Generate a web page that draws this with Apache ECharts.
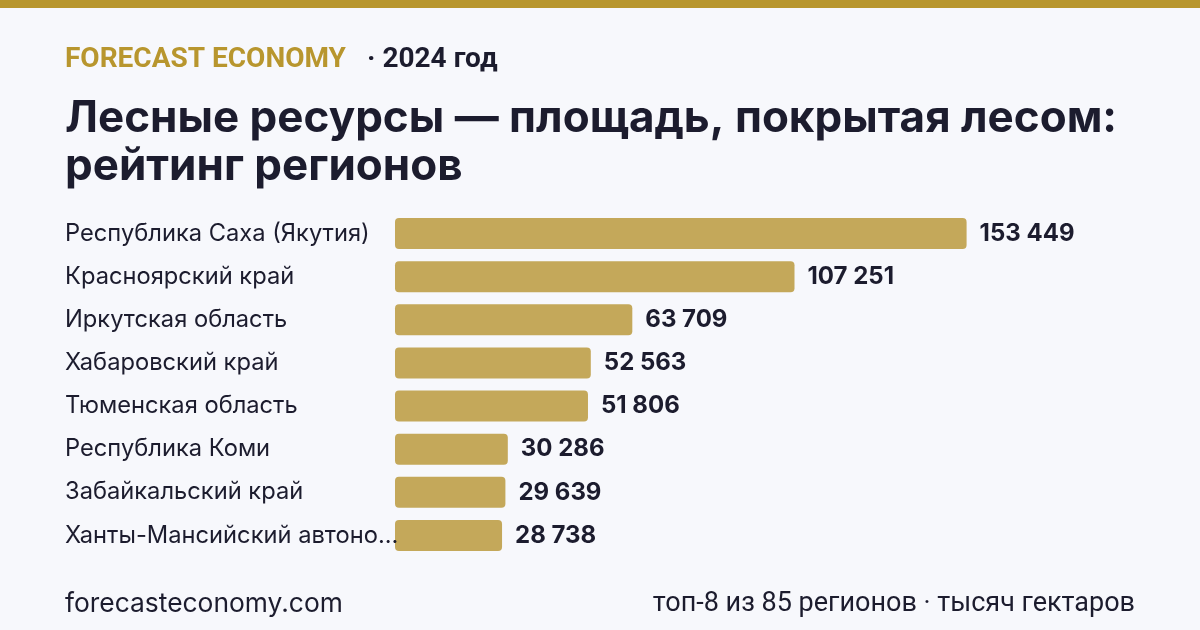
<!DOCTYPE html>
<html><head><meta charset="utf-8">
<script src="https://cdn.jsdelivr.net/npm/echarts@6/dist/echarts.min.js"></script>
<style>html,body{margin:0;padding:0;background:#f7f8fc}#c{width:1200px;height:630px}</style>
</head><body><div id="c"></div>
<script>
const categories = ["Республика Саха (Якутия)","Красноярский край","Иркутская область","Хабаровский край","Тюменская область","Республика Коми","Забайкальский край","Ханты-Мансийский автономный округ — Югра"];
const values = [153449,107251,63709,52563,51806,30286,29639,28738];
const brand = "FORECAST ECONOMY";
const yearText = "· 2024 год";
const titleText = "Лесные ресурсы — площадь, покрытая лесом:\nрейтинг регионов";
const footLeft = "forecasteconomy.com";
const footRight = "топ-8 из 85 регионов · тысяч гектаров";

const fmt = v => String(v).replace(/\B(?=(\d{3})+(?!\d))/g, ' ');
const shorten = s => s.length > 24 ? s.slice(0, 23) + '...' : s;
const chart = echarts.init(document.getElementById('c'));
chart.setOption({
  backgroundColor: '#f7f8fc',
  animation: false,
  graphic: [
    {type:'rect', left:0, top:0, shape:{width:1200, height:8}, style:{fill:'#b8962e'}},
    {type:'text', left:65, top:46, style:{text:brand, font:'bold 28px Roboto', fill:'#b8962e'}},
    {type:'text', left:367, top:46, style:{text:yearText, font:'bold 28px Roboto', fill:'#1c1c2e'}},
    {type:'text', left:65, top:95, style:{text:titleText, font:'bold 44px Inter', fill:'#1c1c2e', lineHeight:48}},
    {type:'text', left:65, top:591, style:{text:footLeft, font:'26.4px Inter', fill:'#1c1c2e'}},
    {type:'text', right:65, top:591, style:{text:footRight, font:'27px Roboto', fill:'#1c1c2e'}}
  ],
  grid: {left:395, top:212, width:596, height:345},
  xAxis: {type:'value', min:0, max:160000, show:false},
  yAxis: {
    type:'category', data:categories, inverse:true, z:5,
    axisLine:{show:false}, axisTick:{show:false},
    axisLabel:{
      align:'left', margin:330, formatter: shorten,
      fontFamily:'Inter', fontSize:23.7, color:'#1c1c2e'
    }
  },
  series: [{
    type:'bar', data:values, barWidth:31,
    itemStyle:{color:'#c4a85a', borderRadius:4},
    label:{show:true, position:'right', distance:13, formatter:p=>fmt(p.value),
      fontFamily:'Inter', fontWeight:'bold', fontSize:24, color:'#1c1c2e'}
  }]
});
</script></body></html>
